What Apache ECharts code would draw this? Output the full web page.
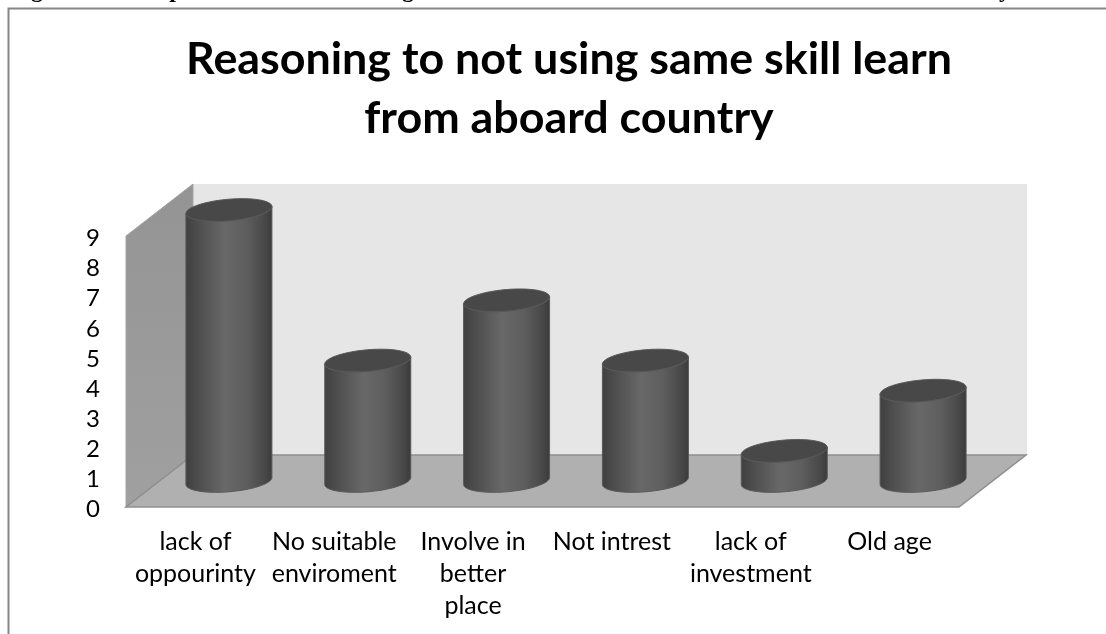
<!DOCTYPE html>
<html>
<head>
<meta charset="utf-8">
<style>
  html, body { margin: 0; padding: 0; background: #fff; }
  #chart { width: 1106px; height: 634px; }
</style>
<script src="https://cdn.jsdelivr.net/npm/echarts@6/dist/echarts.min.js"></script>
</head>
<body>
<div id="chart"></div>
<script>
// Reasons for not applying skills learned abroad
const chartTitle = 'Reasoning to not using same skill learn\nfrom aboard country';
const categories = [
  'lack of\noppourinty',
  'No suitable\nenviroment',
  'Involve in\nbetter\nplace',
  'Not intrest',
  'lack of\ninvestment',
  'Old age'
];
const counts = [9, 4, 6, 4, 1, 3];
const valueTicks = [0, 1, 2, 3, 4, 5, 6, 7, 8, 9];

// Oblique projection of the box the columns stand in
const DEPTH_X = 67;
const DEPTH_Y = 52;
const RADIUS_X = 43;
const RADIUS_Y = 10.8;
const TILT = 3.5;
const FONT = 'Lato, "Open Sans", sans-serif';

const sideGradient = {
  type: 'linear', x: 0, y: 0, x2: 1, y2: 0,
  colorStops: [
    { offset: 0, color: '#3f3f3f' },
    { offset: 0.12, color: '#4b4b4b' },
    { offset: 0.45, color: '#686868' },
    { offset: 0.7, color: '#5e5e5e' },
    { offset: 0.92, color: '#474747' },
    { offset: 1, color: '#3a3a3a' }
  ]
};

// Point on a column's sheared elliptical rim
function rimPoint(cx, cy, t) {
  return [
    cx + RADIUS_X * Math.cos(t),
    cy + RADIUS_Y * Math.sin(t) - TILT * Math.cos(t)
  ];
}

function rimPoints(cx, cy, from, to, steps) {
  const pts = [];
  for (let i = 0; i <= steps; i++) {
    pts.push(rimPoint(cx, cy, from + (to - from) * i / steps));
  }
  return pts;
}

function renderColumn(params, api) {
  const idx = api.value(0);
  const top = api.coord([idx, api.value(1)]);
  const base = api.coord([idx, 0]);
  const cx = base[0] + DEPTH_X / 2;
  const yBase = base[1] - DEPTH_Y / 2;
  const yTop = top[1] - DEPTH_Y / 2;
  const side = rimPoints(cx, yBase, 0, Math.PI, 40)
    .concat(rimPoints(cx, yTop, Math.PI, 0, 40));
  return {
    type: 'group',
    children: [
      {
        type: 'polygon',
        shape: { points: side },
        style: { fill: sideGradient, stroke: '#5a5a5a', lineWidth: 1 }
      },
      {
        type: 'polygon',
        shape: { points: rimPoints(cx, yTop, 0, Math.PI * 2, 80) },
        style: { fill: '#484848', stroke: '#585858', lineWidth: 1 }
      }
    ]
  };
}

function renderBox(params) {
  const r = params.coordSys;
  const left = r.x, right = r.x + r.width, top = r.y, bottom = r.y + r.height;
  return {
    type: 'group',
    children: [
      {
        type: 'rect',
        shape: { x: left + DEPTH_X, y: top - DEPTH_Y, width: r.width + 1, height: r.height + 1 },
        style: { fill: '#e6e6e6' }
      },
      {
        type: 'polygon',
        shape: { points: [[left, top], [left + DEPTH_X, top - DEPTH_Y], [left + DEPTH_X, bottom - DEPTH_Y], [left, bottom]] },
        style: {
          fill: {
            type: 'linear', x: 0, y: 0, x2: 0, y2: 1,
            colorStops: [{ offset: 0, color: '#949494' }, { offset: 1, color: '#a0a0a0' }]
          },
          stroke: '#a4a4a4', lineWidth: 1
        }
      },
      {
        type: 'polygon',
        shape: { points: [[left, bottom], [right, bottom], [right + DEPTH_X, bottom - DEPTH_Y], [left + DEPTH_X, bottom - DEPTH_Y]] },
        style: { fill: '#b0b0b0', stroke: '#8e8e8e', lineWidth: 1.5 }
      }
    ]
  };
}

// Descender tips of the caption line running off the top of the page
const captionTips = [['g', 37], ['p', 176], ['g', 408], ['y', 1005]];

const chart = echarts.init(document.getElementById('chart'), null, { renderer: 'canvas' });
chart.setOption({
  animation: false,
  backgroundColor: '#fff',
  title: {
    text: chartTitle,
    left: 564,
    top: 25,
    textAlign: 'center',
    textStyle: { fontFamily: FONT, fontWeight: 'bold', fontSize: 44.8, lineHeight: 59, color: '#000' }
  },
  grid: { left: 126, right: 147, top: 236, bottom: 127 },
  xAxis: {
    type: 'category',
    data: categories,
    axisLine: { show: false },
    axisTick: { show: false },
    axisLabel: {
      interval: 0, margin: 19, fontFamily: FONT, fontSize: 25, lineHeight: 32, color: '#000'
    }
  },
  yAxis: {
    type: 'value',
    min: valueTicks[0],
    max: valueTicks[valueTicks.length - 1],
    interval: 1,
    splitLine: { show: false },
    axisLine: { show: false },
    axisTick: { show: false },
    axisLabel: {
      margin: 26,
      formatter: '{tick|{value}}',
      rich: { tick: { fontFamily: FONT, fontSize: 24, lineHeight: 24, padding: [5, 0, 0, 0], color: '#000' } }
    }
  },
  series: [
    {
      type: 'custom',
      silent: true,
      z: 1,
      renderItem: renderBox,
      data: [[0, 0]],
      clip: false
    },
    {
      type: 'custom',
      z: 2,
      renderItem: renderColumn,
      encode: { x: 0, y: 1 },
      data: counts.map((v, i) => [i, v]),
      clip: false
    }
  ],
  graphic: [
    {
      type: 'polyline',
      silent: true,
      shape: { points: [[8.5, 634], [8.5, 8.5], [1106, 8.5]] },
      style: { stroke: '#868686', lineWidth: 2, fill: null }
    }
  ].concat(captionTips.map(([ch, x]) => ({
    type: 'text',
    silent: true,
    x: x,
    y: 3,
    style: {
      text: ch,
      fontFamily: '"Liberation Serif", serif',
      fontWeight: 'bold',
      fontSize: 24,
      fill: '#000',
      align: 'center',
      verticalAlign: 'bottom'
    }
  })))
});
</script>
</body>
</html>
